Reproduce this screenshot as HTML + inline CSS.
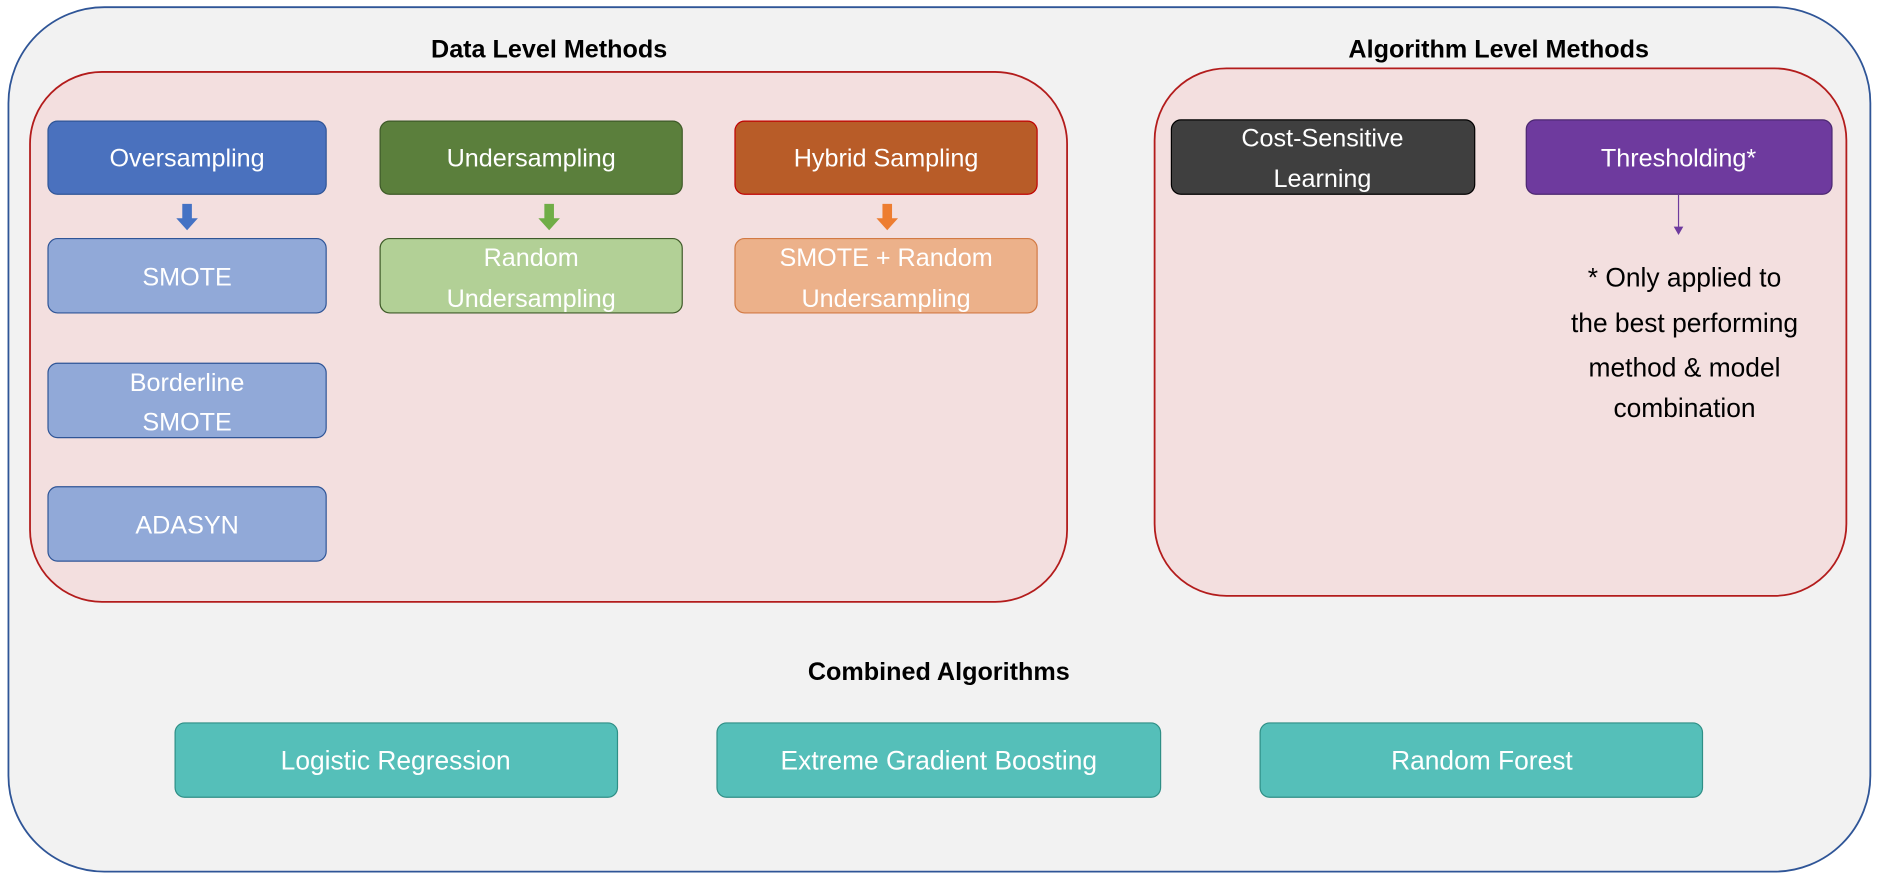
<!DOCTYPE html>
<html><head><meta charset="utf-8"><style>html,body{margin:0;padding:0;background:#fff}svg{display:block}</style></head>
<body>
<svg width="1880" height="880" viewBox="0 0 1568 734" xmlns="http://www.w3.org/2000/svg" font-family="Liberation Sans, sans-serif">
<rect x="7" y="6" width="1553" height="721" rx="80" fill="#f2f2f2" stroke="#2f5597" stroke-width="1.5"/>
<text x="458" y="48" text-anchor="middle" font-weight="bold" font-size="21">Data Level Methods</text>
<text x="1250" y="48" text-anchor="middle" font-weight="bold" font-size="21">Algorithm Level Methods</text>
<rect x="25" y="60" width="865" height="442" rx="60" fill="#f3dfdf" stroke="#b31c1c" stroke-width="1.5"/>
<rect x="963" y="57" width="577" height="440" rx="60" fill="#f3dfdf" stroke="#b31c1c" stroke-width="1.5"/>
<g font-size="21" fill="#fff" text-anchor="middle">
<rect x="40" y="101" width="232" height="61" rx="8" fill="#4a71be" stroke="#2f5597"/>
<text x="156" y="139" fill="#fff">Oversampling</text>
<rect x="317" y="101" width="252" height="61" rx="8" fill="#5b7f3c" stroke="#3e5a28"/>
<text x="443" y="139" fill="#fff">Undersampling</text>
<rect x="613" y="101" width="252" height="61" rx="8" fill="#b85c28" stroke="#c00000"/>
<text x="739" y="139" fill="#fff">Hybrid Sampling</text>
<rect x="40" y="199" width="232" height="62" rx="8" fill="#91a9d8" stroke="#2f5597"/>
<text x="156" y="238" fill="#fff">SMOTE</text>
<rect x="317" y="199" width="252" height="62" rx="8" fill="#b2d096" stroke="#3e5a28"/>
<text x="443" y="222" fill="#fff">Random</text>
<text x="443" y="256" fill="#fff">Undersampling</text>
<rect x="613" y="199" width="252" height="62" rx="8" fill="#ecb18a" stroke="#d27a44"/>
<text x="739" y="222" fill="#fff">SMOTE + Random</text>
<text x="739" y="256" fill="#fff">Undersampling</text>
<rect x="40" y="303" width="232" height="62" rx="8" fill="#91a9d8" stroke="#2f5597"/>
<text x="156" y="326" fill="#fff">Borderline</text>
<text x="156" y="359" fill="#fff">SMOTE</text>
<rect x="40" y="406" width="232" height="62" rx="8" fill="#91a9d8" stroke="#2f5597"/>
<text x="156" y="445" fill="#fff">ADASYN</text>
<rect x="977" y="100" width="253" height="62" rx="8" fill="#3f3f3f" stroke="#000"/>
<text x="1103" y="122" fill="#fff">Cost-Sensitive</text>
<text x="1103" y="156" fill="#fff">Learning</text>
<rect x="1273" y="100" width="255" height="62" rx="8" fill="#6e3a9e" stroke="#4b2770"/>
<text x="1400" y="139" fill="#fff">Thresholding*</text>
</g>
<path d="M152 170h8v12h5l-9 10-9-10h5z" fill="#4472c4"/>
<path d="M454 170h8v12h5l-9 10-9-10h5z" fill="#70ad47"/>
<path d="M736 170h8v12h5l-9 10-9-10h5z" fill="#ed7d31"/>
<line x1="1400" y1="162" x2="1400" y2="190" stroke="#6e3a9e" stroke-width="1"/>
<path d="M1396 189l4 7 4-7z" fill="#6e3a9e"/>
<g font-size="22" text-anchor="middle">
<text x="1405" y="239">* Only applied to</text>
<text x="1405" y="277">the best performing</text>
<text x="1405" y="314">method &amp; model</text>
<text x="1405" y="348">combination</text>
</g>
<text x="783" y="567" text-anchor="middle" font-weight="bold" font-size="21">Combined Algorithms</text>
<g font-size="22" text-anchor="middle">
<rect x="146" y="603" width="369" height="62" rx="8" fill="#55bfb9" stroke="#2f8f86"/>
<text x="330" y="642" fill="#fff">Logistic Regression</text>
<rect x="598" y="603" width="370" height="62" rx="8" fill="#55bfb9" stroke="#2f8f86"/>
<text x="783" y="642" fill="#fff">Extreme Gradient Boosting</text>
<rect x="1051" y="603" width="369" height="62" rx="8" fill="#55bfb9" stroke="#2f8f86"/>
<text x="1236" y="642" fill="#fff">Random Forest</text>
</g>
</svg>
</body></html>
